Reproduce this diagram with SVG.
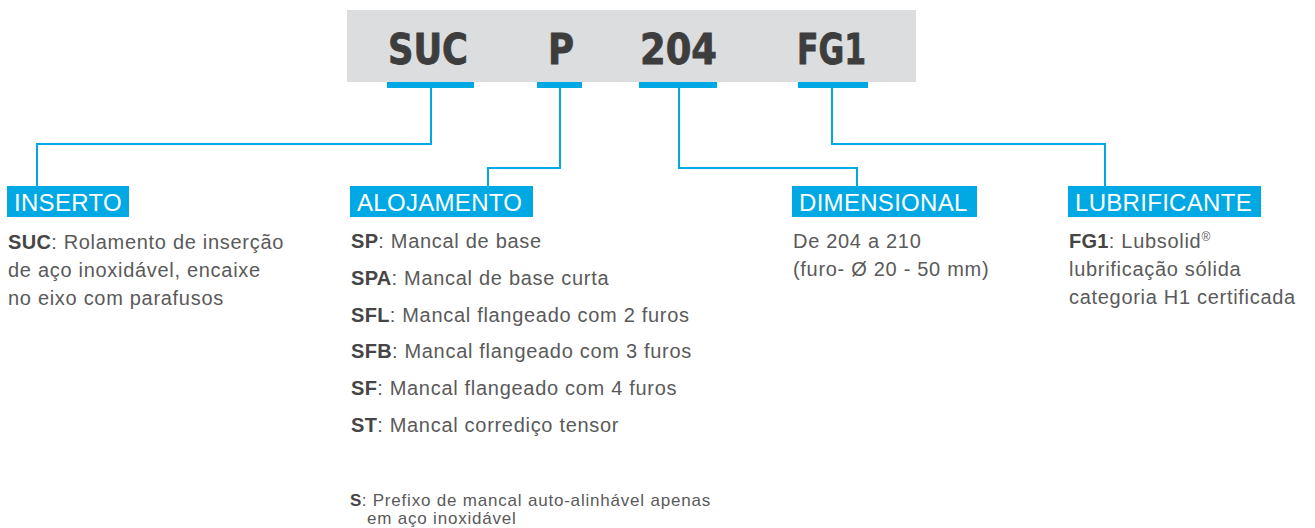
<svg xmlns="http://www.w3.org/2000/svg" width="1315" height="528" viewBox="0 0 1315 528">
<style>
.code{font-family:"DejaVu Sans Condensed","DejaVu Sans",sans-serif;font-weight:bold;font-size:42px;fill:#3d3d3d;stroke:#3d3d3d;stroke-width:0.8}
.bar{fill:#00a8e4}
.conn{fill:none;stroke:#00a8e4;stroke-width:2}
.lbg{fill:#00a8e4}
.lbl{font-family:"Liberation Sans",Arial,sans-serif;font-size:24px;letter-spacing:0.3px;fill:#fff}
.body{font-family:"Liberation Sans",Arial,sans-serif;font-size:20px;letter-spacing:0.7px;fill:#5a5a5a}
.note{font-family:"Liberation Sans",Arial,sans-serif;font-size:17px;letter-spacing:0.8px;fill:#5a5a5a}
.b{font-weight:bold;fill:#454545;letter-spacing:0.3px}
</style>
<rect width="1315" height="528" fill="#fff"/>
<g id="code">
<rect x="347" y="10" width="569" height="72" fill="#dcdddf"/>
<text class="code" x="388" y="64" textLength="80" lengthAdjust="spacingAndGlyphs">SUC</text>
<text class="code" x="548" y="64" textLength="26" lengthAdjust="spacingAndGlyphs">P</text>
<text class="code" x="640" y="64" textLength="77" lengthAdjust="spacingAndGlyphs">204</text>
<text class="code" x="797" y="64" textLength="69" lengthAdjust="spacingAndGlyphs">FG1</text>
<rect class="bar" x="387" y="82" width="87" height="6"/>
<rect class="bar" x="537" y="82" width="45" height="6"/>
<rect class="bar" x="639" y="82" width="78" height="6"/>
<rect class="bar" x="798" y="82" width="70" height="6"/>
</g>
<g id="connectors">
<polyline class="conn" points="431,88 431,144 37,144 37,186"/>
<polyline class="conn" points="560,88 560,168 488,168 488,186"/>
<polyline class="conn" points="679,88 679,168 857,168 857,186"/>
<polyline class="conn" points="832,88 832,144 1105,144 1105,186"/>
</g>
<g id="inserto">
<rect class="lbg" x="7" y="186" width="122" height="31"/>
<text class="lbl" x="14" y="211">INSERTO</text>
<text class="body" x="8" y="249"><tspan class="b">SUC</tspan>: Rolamento de inserção</text>
<text class="body" x="8" y="277">de aço inoxidável, encaixe</text>
<text class="body" x="8" y="305">no eixo com parafusos</text>
</g>
<g id="alojamento">
<rect class="lbg" x="350" y="186" width="183" height="31"/>
<text class="lbl" x="357" y="211">ALOJAMENTO</text>
<text class="body" x="351" y="248"><tspan class="b">SP</tspan>: Mancal de base</text>
<text class="body" x="351" y="285"><tspan class="b">SPA</tspan>: Mancal de base curta</text>
<text class="body" x="351" y="322"><tspan class="b">SFL</tspan>: Mancal flangeado com 2 furos</text>
<text class="body" x="351" y="358"><tspan class="b">SFB</tspan>: Mancal flangeado com 3 furos</text>
<text class="body" x="351" y="395"><tspan class="b">SF</tspan>: Mancal flangeado com 4 furos</text>
<text class="body" x="351" y="432"><tspan class="b">ST</tspan>: Mancal corrediço tensor</text>
<text class="note" x="350" y="506"><tspan class="b">S</tspan>: Prefixo de mancal auto-alinhável apenas</text>
<text class="note" x="367" y="524">em aço inoxidável</text>
</g>
<g id="dimensional">
<rect class="lbg" x="792" y="186" width="185" height="31"/>
<text class="lbl" x="799" y="211">DIMENSIONAL</text>
<text class="body" x="793" y="248">De 204 a 210</text>
<text class="body" x="793" y="276">(furo- Ø 20 - 50 mm)</text>
</g>
<g id="lubrificante">
<rect class="lbg" x="1068" y="186" width="193" height="31"/>
<text class="lbl" x="1075" y="211">LUBRIFICANTE</text>
<text class="body" x="1069" y="248"><tspan class="b">FG1</tspan>: Lubsolid<tspan font-size="12" dy="-7">®</tspan></text>
<text class="body" x="1069" y="276">lubrificação sólida</text>
<text class="body" x="1069" y="304">categoria H1 certificada</text>
</g>
</svg>
